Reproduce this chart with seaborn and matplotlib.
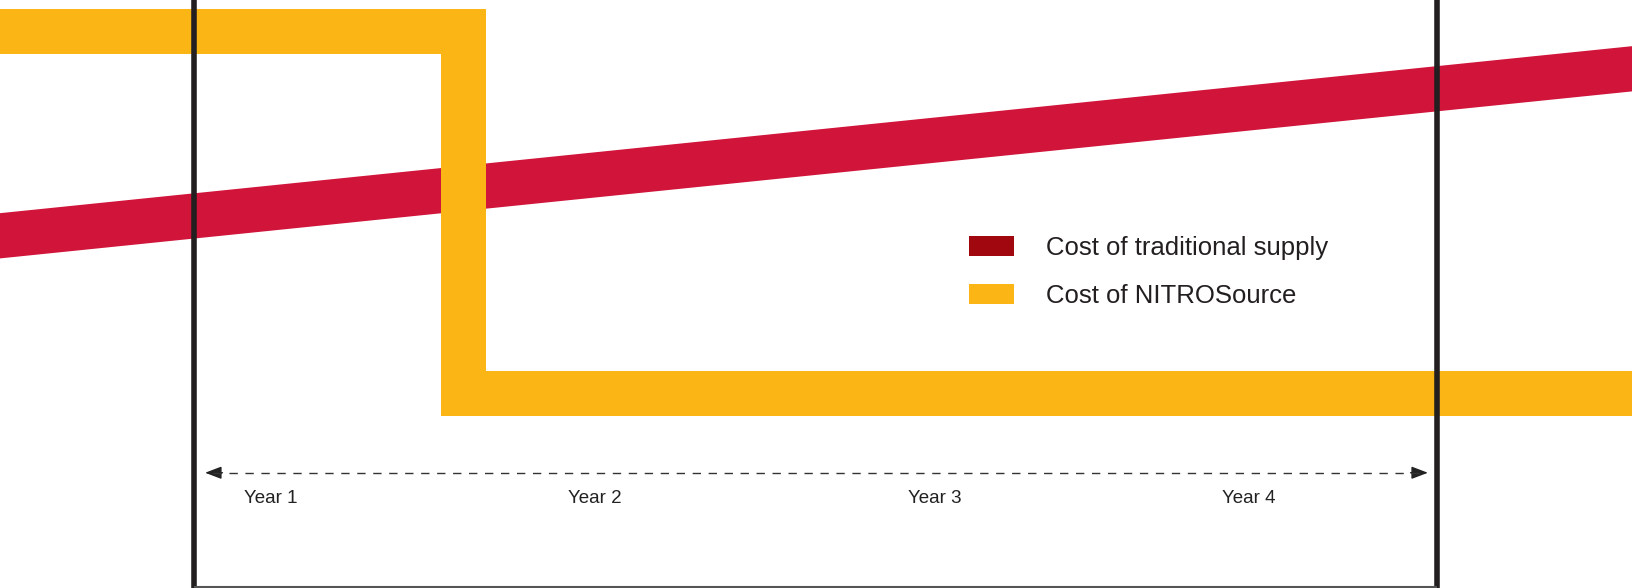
import matplotlib
matplotlib.use("Agg")
import matplotlib.pyplot as plt
from matplotlib.patches import Patch
import seaborn as sns
import pandas as pd

# time in years (box spans year 0..4), cost in arbitrary units (0..100)
trad_t = [-0.626, 4.628]
trad_cost = [59.9, 88.3]

nitro_t = [-0.626, 0.863, 4.628]
nitro_cost = [94.8, 33.2, 33.2]

year_labels = ["Year 1", "Year 2", "Year 3", "Year 4"]
year_pos = [0.246, 1.289, 2.384, 3.395]

legend_labels = ["Cost of traditional supply", "Cost of NITROSource"]

RED = "#D1143A"
RED_DARK = "#A0070F"
YELLOW = "#FBB616"
INK = "#231F20"

sns.set_style("white")
plt.rcParams["font.family"] = ["Liberation Sans", "DejaVu Sans"]

fig = plt.figure(figsize=(16.32, 5.88), dpi=100)
ax = fig.add_axes([0, 0, 1, 1])

trad = pd.DataFrame({"t": trad_t, "cost": trad_cost})
nitro = pd.DataFrame({"t": nitro_t, "cost": nitro_cost})

# projecting caps so the thick bands fill the figure edges without a slanted notch
sns.lineplot(data=trad, x="t", y="cost", ax=ax, color=RED, linewidth=32.4,
             solid_capstyle="projecting", estimator=None, sort=False)
sns.lineplot(data=nitro, x="t", y="cost", ax=ax, color=YELLOW, linewidth=32.4,
             drawstyle="steps-post", solid_joinstyle="miter",
             solid_capstyle="projecting", estimator=None, sort=False)

# box around the four years
ax.axvline(0, color=INK, linewidth=4.0, zorder=5)
ax.axvline(4, color=INK, linewidth=4.0, zorder=5)
ax.hlines(0.17, 0, 4, color="#555555", linewidth=1.5, zorder=5)

# dashed double arrow
arrow_y = 19.6
ax.plot([0.06, 3.945], [arrow_y, arrow_y], color="#333333", linewidth=1.0,
        dashes=(6, 5.5), zorder=4)
for tip, tail in [(0.034, 0.09), (3.971, 3.915)]:
    ax.annotate("", xy=(tip, arrow_y), xytext=(tail, arrow_y),
                arrowprops=dict(arrowstyle="-|>,head_length=1.0,head_width=0.38",
                                color="#222222", linewidth=1.0,
                                shrinkA=0, shrinkB=0))

for lbl, pos in zip(year_labels, year_pos):
    ax.text(pos, 15.3, lbl, ha="center", va="center", fontsize=13.5,
            color="#222222")

handles = [Patch(facecolor=RED_DARK, edgecolor="none"),
           Patch(facecolor=YELLOW, edgecolor="none")]
ax.legend(handles, legend_labels, loc="upper left",
          bbox_to_anchor=(969 / 1632, 1 - 236 / 588),
          bbox_transform=fig.transFigure, frameon=False,
          fontsize=18.5, handlelength=1.75, handleheight=0.82,
          handletextpad=1.25, labelspacing=0.92, borderpad=0,
          borderaxespad=0, labelcolor="#231F20")

ax.set_xlim(-0.6262, 4.6281)
ax.set_ylim(0, 100)
ax.axis("off")

fig.savefig("out.png", dpi=100)
